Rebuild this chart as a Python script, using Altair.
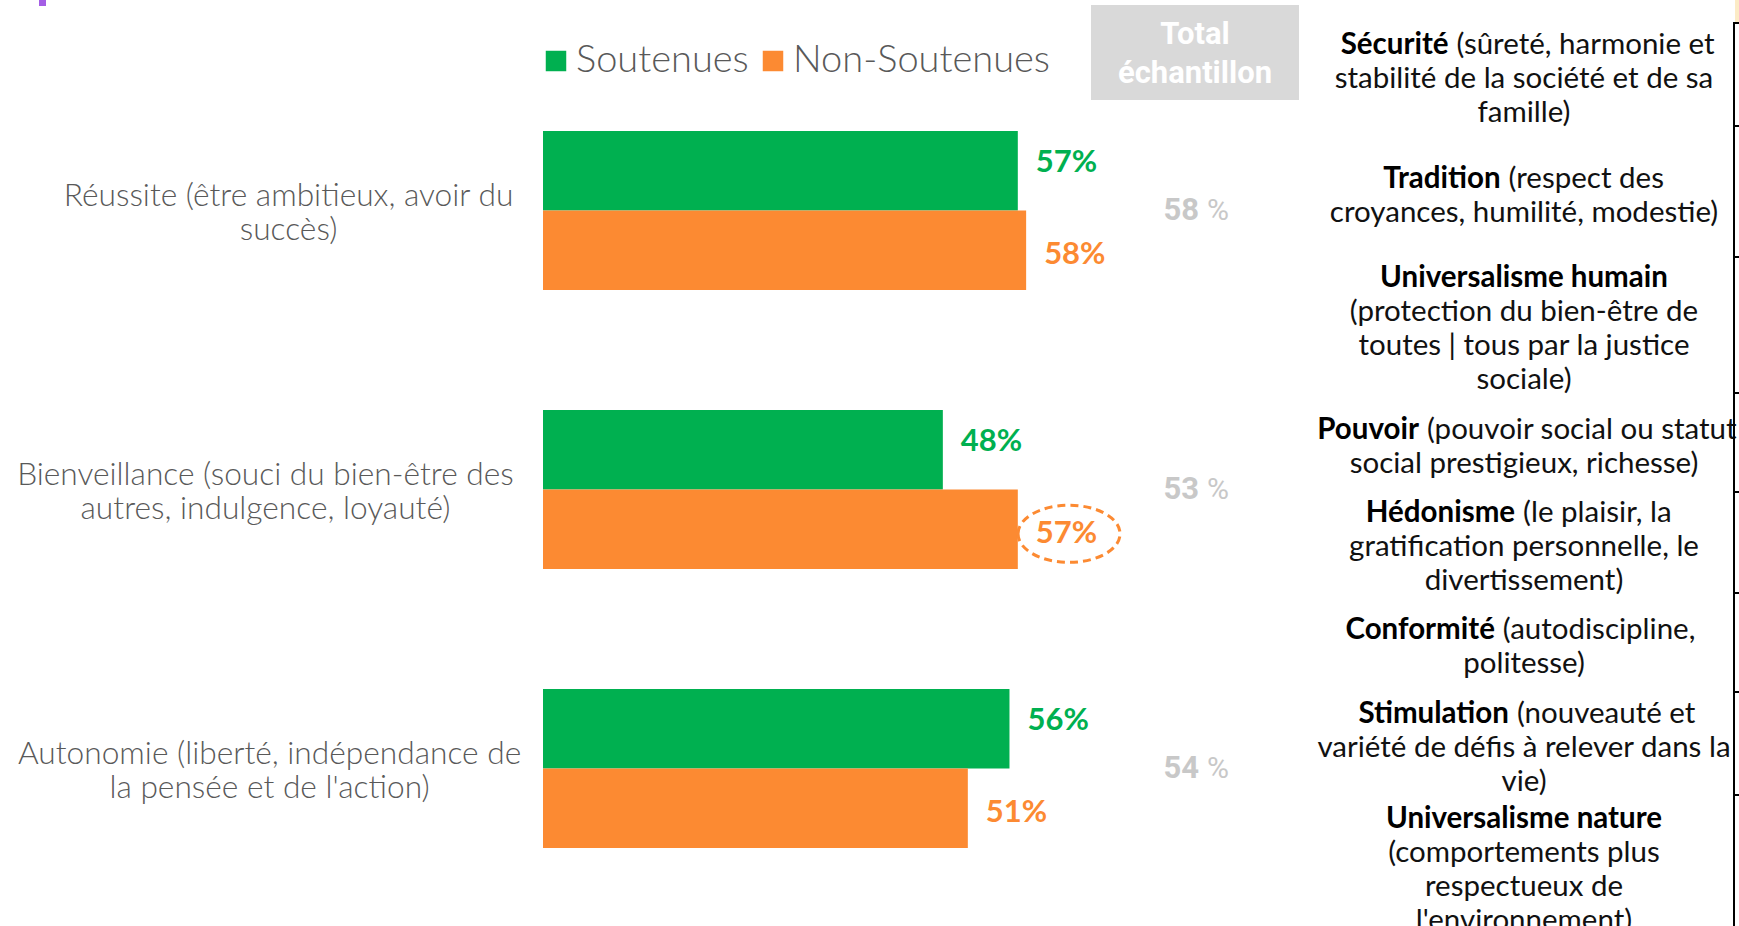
import altair as alt
import pandas as pd

W, H = 1739, 926

# ---------------- data ----------------
cat_keys = ["Réussite", "Bienveillance", "Autonomie"]
cat_line1 = ["Réussite (être ambitieux, avoir du",
             "Bienveillance (souci du bien-être des",
             "Autonomie (liberté, indépendance de"]
cat_line2 = ["succès)",
             "autres, indulgence, loyauté)",
             "la pensée et de l'action)"]
groups = ["Soutenues", "Non-Soutenues"]
soutenues = [57, 48, 56]
non_soutenues = [58, 57, 51]
total_sample = [58, 53, 54]
highlight_cat = "Bienveillance"
highlight_group = "Non-Soutenues"

header_lines = ["Total", "échantillon"]

value_entries = [
    [("Sécurité", "(sûreté, harmonie et"), ("", "stabilité de la société et de sa"), ("", "famille)")],
    [("Tradition", "(respect des"), ("", "croyances, humilité, modestie)")],
    [("Universalisme humain", ""), ("", "(protection du bien-être de"),
     ("", "toutes | tous par la justice"), ("", "sociale)")],
    [("Pouvoir", "(pouvoir social ou statut"), ("", "social prestigieux, richesse)")],
    [("Hédonisme", "(le plaisir, la"), ("", "gratification personnelle, le"), ("", "divertissement)")],
    [("Conformité", "(autodiscipline,"), ("", "politesse)")],
    [("Stimulation", "(nouveauté et"), ("", "variété de défis à relever dans la"), ("", "vie)")],
    [("Universalisme nature", ""), ("", "(comportements plus"),
     ("", "respectueux de"), ("", "l'environnement)")],
]

# ---------------- layout constants ----------------
GREEN = "#00B050"
ORANGE = "#FC8A32"
GREY_TXT = "#595959"
FONT = "Lato"

row_bounds = [23, 126, 257, 393, 492, 593, 692, 795, 937]
panel_cx = 1524
panel_lh = 34
panel_fs = 29.5
cat_fs = 31.7


def text_units(s):
    """rough width of a string in 'average character' units"""
    u = 0.0
    for ch in s:
        if ch in "ijlt.,;:'()|!- fíìïî":
            u += 0.5
        elif ch == "r":
            u += 0.7
        elif ch in "mwMW":
            u += 1.5
        elif ch.isupper():
            u += 1.2
        else:
            u += 1.0
    return u


# ---------------- tables ----------------
bars = pd.DataFrame(
    [{"cat": c, "group": "Soutenues", "value": v} for c, v in zip(cat_keys, soutenues)]
    + [{"cat": c, "group": "Non-Soutenues", "value": v} for c, v in zip(cat_keys, non_soutenues)]
)
bars["label"] = bars["value"].astype(str) + "%"
bars["hl"] = (bars["cat"] == highlight_cat) & (bars["group"] == highlight_group)

cat_unit = 0.52 * cat_fs
cats = pd.DataFrame({
    "cat": cat_keys,
    "text": [a + "\n" + b for a, b in zip(cat_line1, cat_line2)],
    "lx": [516 - text_units(a) * cat_unit / 2 for a in cat_line1],
    "total": [str(t) for t in total_sample],
})

# right panel lines
unit = 0.525 * panel_fs
gap = 0.27 * panel_fs
mixed_b, mixed_r, center_reg, center_bold = [], [], [], []
for i, entry in enumerate(value_entries):
    cy = (row_bounds[i] + row_bounds[i + 1]) / 2
    n = len(entry)
    for j, (b, r) in enumerate(entry):
        y = cy + (j - (n - 1) / 2) * panel_lh
        if b and r:
            wb, wr = text_units(b) * unit * 1.04, text_units(r) * unit
            start = panel_cx - (wb + gap + wr) / 2
            mixed_b.append({"t": b, "px": start + wb, "py": y})
            mixed_r.append({"t": r, "px": start + wb + gap, "py": y})
        elif b:
            center_bold.append({"t": b, "px": panel_cx, "py": y})
        else:
            center_reg.append({"t": r, "px": panel_cx, "py": y})

dummy = pd.DataFrame({"a": [0]})

# ---------------- scales ----------------
xs = alt.Scale(domain=[0, 100], range=[543, 1376])
ys = alt.Scale(domain=cat_keys, range=[71, 908], paddingInner=0.431, paddingOuter=0.2155)
cs = alt.Scale(domain=groups, range=[GREEN, ORANGE])
yo = alt.Scale(domain=groups, paddingInner=0, paddingOuter=0)

base = alt.Chart(bars)

bar_layer = base.mark_bar().encode(
    x=alt.X("value:Q", scale=xs, axis=None),
    y=alt.Y("cat:N", scale=ys, axis=None),
    yOffset=alt.YOffset("group:N", scale=yo, sort=groups),
    color=alt.Color("group:N", scale=cs, sort=groups,
                    legend=alt.Legend(title=None, orient="none", legendX=537, legendY=42,
                                      direction="horizontal", symbolType="square",
                                      symbolSize=420, symbolStrokeWidth=0,
                                      labelFont=FONT, labelFontSize=38, labelFontWeight=300,
                                      labelColor=GREY_TXT, labelLimit=0,
                                      labelOffset=1, columnPadding=5, padding=0)),
)


def value_labels(group, dy):
    return base.transform_filter(alt.datum.group == group).mark_text(
        align="left", baseline="middle", dx=18, dy=dy,
        font=FONT, fontWeight="bold", fontSize=31).encode(
        x=alt.X("value:Q", scale=xs),
        y=alt.Y("cat:N", scale=ys),
        yOffset=alt.YOffset("group:N", scale=yo, sort=groups),
        text="label:N",
        color=alt.Color("group:N", scale=cs, legend=None),
    )


label_green = value_labels("Soutenues", -8)
label_orange = value_labels("Non-Soutenues", 5)

ellipse = base.transform_filter("datum.hl").transform_calculate(
    cx="datum.value + 6.15"
).mark_point(
    shape="M -1 0.09 A 1 0.56 0 1 1 1 0.09 A 1 0.56 0 1 1 -1 0.09 Z",
    size=10404, filled=False, stroke=ORANGE, strokeWidth=3, strokeDash=[8, 5], opacity=1,
).encode(
    x=alt.X("cx:Q", scale=xs),
    y=alt.Y("cat:N", scale=ys),
    yOffset=alt.YOffset("group:N", scale=yo, sort=groups),
)

cbase = alt.Chart(cats)
cat_layer = cbase.mark_text(align="center", baseline="middle", lineBreak="\n", lineHeight=34,
                            dy=-15, font=FONT, fontWeight=300, fontSize=cat_fs,
                            color=GREY_TXT).encode(
    x=alt.X("lx:Q", scale=None),
    y=alt.Y("cat:N", scale=ys),
    text="text:N",
)

total_num = cbase.mark_text(align="right", baseline="middle", font="Roboto", fontWeight="bold",
                            fontSize=31, color="#C8C8C8").encode(
    x=alt.value(1199), y=alt.Y("cat:N", scale=ys), text="total:N")
total_pct = cbase.mark_text(align="left", baseline="middle", font="Roboto", fontWeight="normal",
                            fontSize=30, color="#C8C8C8").encode(
    x=alt.value(1207), y=alt.Y("cat:N", scale=ys), text=alt.value("%"))

dbase = alt.Chart(dummy)
header_box = dbase.mark_rect(color="#D9D9D9").encode(
    x=alt.value(1091), x2=alt.value(1299), y=alt.value(5), y2=alt.value(100))
hdr = pd.DataFrame({"t": header_lines, "py": [35, 74]})
header_txt = alt.Chart(hdr).mark_text(align="center", baseline="middle", font="Roboto",
                                      fontWeight="bold", fontSize=31, color="white").encode(
    x=alt.value(1195), y=alt.Y("py:Q", scale=None), text="t:N")

purple = dbase.mark_rect(color="#A45EE5").encode(
    x=alt.value(39), x2=alt.value(46), y=alt.value(0), y2=alt.value(6))
yellow = dbase.mark_rect(color="#FCEBC6").encode(
    x=alt.value(1735), x2=alt.value(1739), y=alt.value(0), y2=alt.value(22))
vline = dbase.mark_rule(color="black", strokeWidth=2).encode(
    x=alt.value(1734), y=alt.value(22), y2=alt.value(926))
ticks = alt.Chart(pd.DataFrame({"py": row_bounds[:-1]})).mark_rule(color="black", strokeWidth=2).encode(
    x=alt.value(1734), x2=alt.value(1739), y=alt.Y("py:Q", scale=None))


def tlayer(rows, align, weight, color):
    return alt.Chart(pd.DataFrame(rows)).mark_text(
        align=align, baseline="middle", font=FONT, fontWeight=weight, dy=4,
        fontSize=panel_fs, color=color).encode(
        x=alt.X("px:Q", scale=None), y=alt.Y("py:Q", scale=None), text="t:N")


panel = [
    tlayer(mixed_b, "right", "bold", "#000000"),
    tlayer(mixed_r, "left", "normal", "#111111"),
    tlayer(center_reg, "center", "normal", "#111111"),
    tlayer(center_bold, "center", "bold", "#000000"),
]

chart = alt.layer(
    header_box, header_txt, bar_layer, label_green, label_orange, ellipse, cat_layer,
    total_num, total_pct, purple, yellow, *panel, vline, ticks
).properties(
    width=W, height=H, padding=0, autosize=alt.AutoSizeParams(type="none"),
    background="white",
).configure_view(stroke=None)

chart.save("out.html", embed_options={"renderer": "svg", "actions": False})
